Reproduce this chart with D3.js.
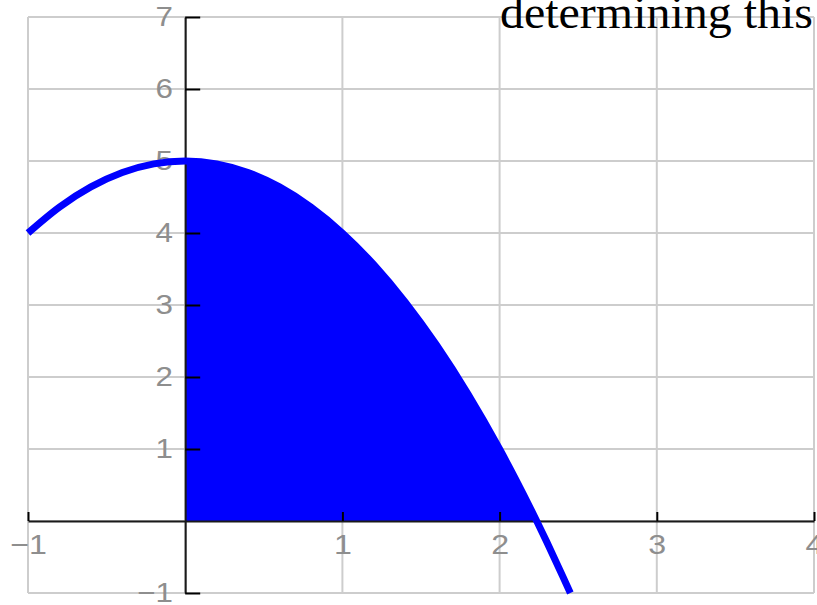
<!DOCTYPE html>
<html>
<head>
<meta charset="utf-8">
<script src="https://cdn.jsdelivr.net/npm/d3@7"></script>
<style>
  html, body { margin: 0; padding: 0; background: #fff; overflow: hidden; }
  svg { display: block; }
</style>
</head>
<body>
<svg id="chart" width="817" height="605"></svg>
<script>
// ---- data ----
const curveX = [-1, -0.8, -0.6, -0.4, -0.2, 0, 0.2, 0.4, 0.6, 0.8, 1, 1.2, 1.4, 1.6, 1.8, 2, 2.1, 2.2, 2.236, 2.3, 2.4, 2.45];
const curveY = [4, 4.36, 4.64, 4.84, 4.96, 5, 4.96, 4.84, 4.64, 4.36, 4, 3.56, 3.04, 2.44, 1.76, 1, 0.59, 0.16, 0, -0.29, -0.76, -1.0];
const shadeFrom = 0;
const shadeTo = 2.236;
const xTicks = [-1, 1, 2, 3, 4];
const yTicks = [-1, 1, 2, 3, 4, 5, 6, 7];
const xGrid = [-1, 0, 1, 2, 3, 4];
const yGrid = [-1, 0, 1, 2, 3, 4, 5, 6, 7];
const titleText = "determining this";

// ---- drawing ----
const svg = d3.select("#chart");
const x = d3.scaleLinear().domain([-1, 4]).range([28, 814]);
const y = d3.scaleLinear().domain([-1, 7]).range([593, 17]);

const pts = curveX.map((v, i) => ({ x: v, y: curveY[i] }));
const shadePts = pts.filter(p => p.x >= shadeFrom && p.x <= shadeTo);

// grid
const grid = svg.append("g").attr("stroke", "#cdcdcd").attr("stroke-width", 2);
grid.selectAll("line.v").data(xGrid).join("line").attr("class", "v")
  .attr("x1", d => x(d)).attr("x2", d => x(d)).attr("y1", y(7)).attr("y2", y(-1));
grid.selectAll("line.h").data(yGrid).join("line").attr("class", "h")
  .attr("y1", d => y(d)).attr("y2", d => y(d)).attr("x1", x(-1)).attr("x2", x(4));

// shaded area
svg.append("path")
  .datum(shadePts)
  .attr("fill", "#0000ff")
  .attr("d", d3.area().x(d => x(d.x)).y0(y(0)).y1(d => y(d.y)).curve(d3.curveMonotoneX));

// axes
const fmt = d => d < 0 ? "\u2212" + Math.abs(d) : d;
const xAxis = d3.axisBottom(x).tickValues(xTicks).tickSizeInner(-9).tickSizeOuter(0).tickPadding(13).tickFormat(fmt);
const yAxis = d3.axisLeft(y).tickValues(yTicks).tickSizeInner(-15).tickSizeOuter(0).tickPadding(11).tickFormat(fmt);

const gx = svg.append("g").attr("transform", `translate(0,${y(0)})`).call(xAxis);
const gy = svg.append("g").attr("transform", `translate(${x(0)},0)`).call(yAxis);

[gx, gy].forEach(g => {
  g.select(".domain").attr("stroke", "#1a1a1a").attr("stroke-width", 2);
  g.selectAll(".tick line").attr("stroke", "#000").attr("stroke-width", 2);
  g.selectAll(".tick text")
    .attr("fill", "#8e8e8e")
    .attr("font-family", "Liberation Sans, Arial, sans-serif")
    .attr("font-size", 28);
});
gx.selectAll(".tick text").attr("transform", "scale(1.15,1)");
gy.selectAll(".tick text").attr("transform", "scale(1.12,1)");

// curve
svg.append("path")
  .datum(pts)
  .attr("fill", "none")
  .attr("stroke", "#0000ff")
  .attr("stroke-width", 7)
  .attr("d", d3.line().x(d => x(d.x)).y(d => y(d.y)).curve(d3.curveMonotoneX));

// title fragment
svg.append("text")
  .attr("x", 500).attr("y", 28)
  .attr("font-family", "Liberation Serif, Times New Roman, serif")
  .attr("font-size", 46)
  .attr("fill", "#000")
  .attr("textLength", 313)
  .attr("lengthAdjust", "spacingAndGlyphs")
  .text(titleText);
</script>
</body>
</html>
